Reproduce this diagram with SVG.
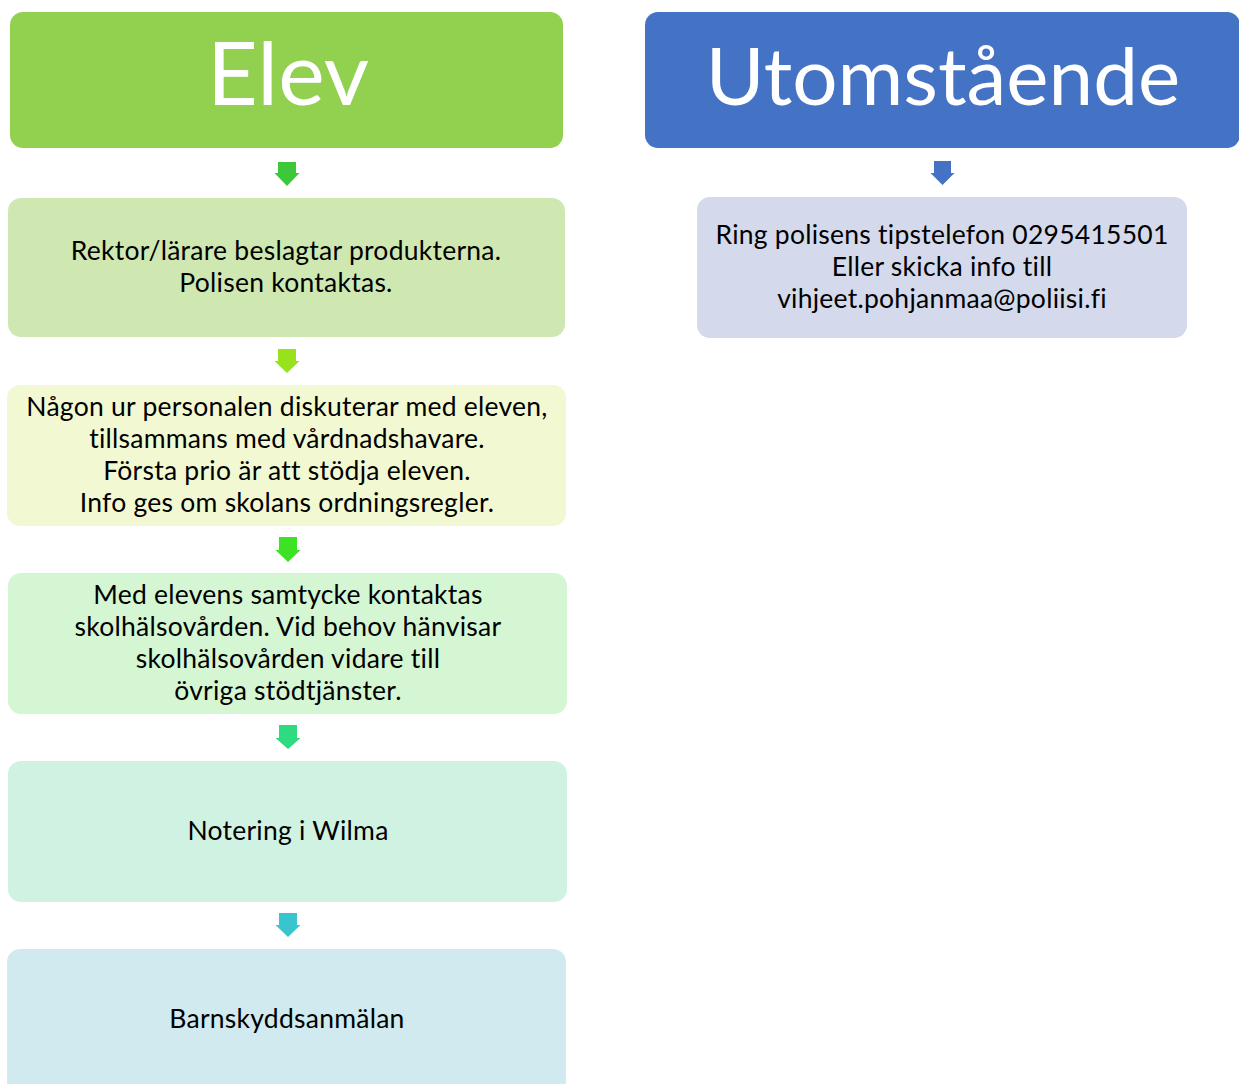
<svg xmlns="http://www.w3.org/2000/svg" width="1239" height="1084" viewBox="0 0 1239 1084">
<style>
.t{font-family:Lato,"Open Sans","Liberation Sans",sans-serif;font-size:26.5px;letter-spacing:0.25px;fill:#000;text-anchor:middle}
.h{font-family:Lato,"Open Sans","Liberation Sans",sans-serif;fill:#fff;text-anchor:middle}
</style>
<rect width="1239" height="1084" fill="#fff"/>
<g id="elev"><rect x="10" y="12" width="553" height="136" rx="13" fill="#92D050"/><text class="h" x="288" y="105" font-size="88">Elev</text></g>
<g id="utomstaende"><rect x="645" y="12" width="595" height="136" rx="13" fill="#4472C4"/><text class="h" x="943" y="105" font-size="80">Utomstående</text></g>
<g id="box1"><rect x="8" y="198" width="557" height="139" rx="13" fill="#CFE8B1"/>
<text class="t" x="286"><tspan x="286" y="260">Rektor/lärare beslagtar produkterna.</tspan><tspan x="286" y="292">Polisen kontaktas.</tspan></text></g>
<g id="box2"><rect x="7" y="385" width="559" height="141" rx="13" fill="#F2F9D2"/>
<text class="t"><tspan x="287" y="416">Någon ur personalen diskuterar med eleven,</tspan><tspan x="287" y="448">tillsammans med vårdnadshavare.</tspan><tspan x="287" y="480">Första prio är att stödja eleven.</tspan><tspan x="287" y="512">Info ges om skolans ordningsregler.</tspan></text></g>
<g id="box3"><rect x="8" y="573" width="559" height="141" rx="13" fill="#D5F6D2"/>
<text class="t"><tspan x="288" y="604">Med elevens samtycke kontaktas</tspan><tspan x="288" y="636">skolhälsovården. Vid behov hänvisar</tspan><tspan x="288" y="668">skolhälsovården vidare till</tspan><tspan x="288" y="700">övriga stödtjänster.</tspan></text></g>
<g id="box4"><rect x="8" y="761" width="559" height="141" rx="13" fill="#D0F2E2"/>
<text class="t" x="288" y="840">Notering i Wilma</text></g>
<g id="box5"><rect x="7" y="949" width="559" height="145" rx="13" fill="#D0EAEF"/>
<text class="t" x="287" y="1028">Barnskyddsanmälan</text></g>
<g id="box6"><rect x="697" y="197" width="490" height="141" rx="13" fill="#D4DAEC"/>
<text class="t"><tspan x="942" y="244">Ring polisens tipstelefon 0295415501</tspan><tspan x="942" y="276">Eller skicka info till</tspan><tspan x="942" y="308">vihjeet.pohjanmaa@poliisi.fi</tspan></text></g>
<g id="connectors">
<path d="M278 162H296V173H299.5L287 186L274.5 173H278Z" fill="#3DC83A"/>
<path d="M278 349H296V361H299.5L287 373L274.5 361H278Z" fill="#97E21C"/>
<path d="M279 537H297V550H300.5L288 562L275.5 550H279Z" fill="#3BE324"/>
<path d="M279 725H297V738H300.5L288 749L275.5 738H279Z" fill="#2FDB80"/>
<path d="M279 913H297V925H300.5L288 937L275.5 925H279Z" fill="#38C5D0"/>
<path d="M934 161H951V173H954.5L942.5 185L930.5 173H934Z" fill="#4472C4"/>
</g>
</svg>
